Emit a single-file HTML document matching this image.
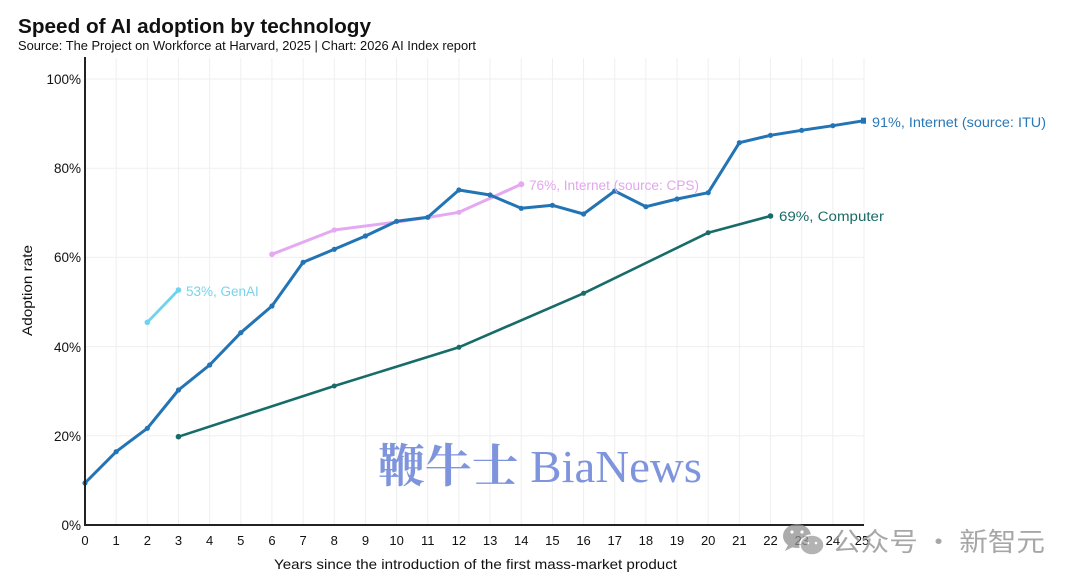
<!DOCTYPE html>
<html>
<head>
<meta charset="utf-8">
<style>
html,body{margin:0;padding:0;background:#fff;}
svg{display:block;}
text{font-family:"Liberation Sans","Noto Sans CJK SC",sans-serif;}
</style>
</head>
<body>
<svg width="1080" height="583" viewBox="0 0 1080 583" xmlns="http://www.w3.org/2000/svg">
<rect width="1080" height="583" fill="#fff"/>
<!-- Title -->
<text x="18" y="33" font-size="20" font-weight="bold" fill="#111" textLength="353" lengthAdjust="spacingAndGlyphs">Speed of AI adoption by technology</text>
<text x="18" y="50" font-size="12.5" fill="#111" textLength="458" lengthAdjust="spacingAndGlyphs">Source: The Project on Workforce at Harvard, 2025 | Chart: 2026 AI Index report</text>

<!-- Grid -->
<g stroke="#efefef" stroke-width="1">
<line x1="116.16" y1="58" x2="116.16" y2="525"/>
<line x1="147.32" y1="58" x2="147.32" y2="525"/>
<line x1="178.48" y1="58" x2="178.48" y2="525"/>
<line x1="209.64" y1="58" x2="209.64" y2="525"/>
<line x1="240.8" y1="58" x2="240.8" y2="525"/>
<line x1="271.96" y1="58" x2="271.96" y2="525"/>
<line x1="303.12" y1="58" x2="303.12" y2="525"/>
<line x1="334.28" y1="58" x2="334.28" y2="525"/>
<line x1="365.44" y1="58" x2="365.44" y2="525"/>
<line x1="396.6" y1="58" x2="396.6" y2="525"/>
<line x1="427.76" y1="58" x2="427.76" y2="525"/>
<line x1="458.92" y1="58" x2="458.92" y2="525"/>
<line x1="490.08" y1="58" x2="490.08" y2="525"/>
<line x1="521.24" y1="58" x2="521.24" y2="525"/>
<line x1="552.4" y1="58" x2="552.4" y2="525"/>
<line x1="583.56" y1="58" x2="583.56" y2="525"/>
<line x1="614.72" y1="58" x2="614.72" y2="525"/>
<line x1="645.88" y1="58" x2="645.88" y2="525"/>
<line x1="677.04" y1="58" x2="677.04" y2="525"/>
<line x1="708.2" y1="58" x2="708.2" y2="525"/>
<line x1="739.36" y1="58" x2="739.36" y2="525"/>
<line x1="770.52" y1="58" x2="770.52" y2="525"/>
<line x1="801.68" y1="58" x2="801.68" y2="525"/>
<line x1="832.84" y1="58" x2="832.84" y2="525"/>
<line x1="864" y1="58" x2="864" y2="525"/>
<line x1="85" y1="79" x2="864" y2="79"/>
<line x1="85" y1="168.2" x2="864" y2="168.2"/>
<line x1="85" y1="257.4" x2="864" y2="257.4"/>
<line x1="85" y1="346.6" x2="864" y2="346.6"/>
<line x1="85" y1="435.8" x2="864" y2="435.8"/>
</g>

<!-- Watermark BiaNews -->
<text x="378" y="482" style="font-family:'Liberation Serif','Noto Serif CJK SC',serif;font-size:46px;" fill="#7e95dd" textLength="324" lengthAdjust="spacingAndGlyphs"><tspan style="font-family:'Noto Serif CJK SC','Liberation Serif',serif;font-weight:bold;">鞭牛士</tspan> BiaNews</text>

<!-- Series: Computer -->
<polyline fill="none" stroke="#176c69" stroke-width="2.6" stroke-linejoin="round" points="178.48,436.7 334.28,386 458.92,347.3 583.56,293.3 708.2,232.7 770.52,216"/>
<g fill="#176c69">
<circle cx="178.48" cy="436.7" r="2.8"/><circle cx="334.28" cy="386" r="2.5"/><circle cx="458.92" cy="347.3" r="2.5"/><circle cx="583.56" cy="293.3" r="2.5"/><circle cx="708.2" cy="232.7" r="2.5"/><circle cx="770.52" cy="216" r="2.8"/>
</g>

<!-- Series: Internet CPS -->
<polyline fill="none" stroke="#e5a9f1" stroke-width="3" stroke-linejoin="round" points="271.96,254.3 334.28,230 396.6,222 427.76,217.5 458.92,212.3 521.24,184.3"/>
<g fill="#e5a9f1">
<circle cx="271.96" cy="254.3" r="2.8"/><circle cx="334.28" cy="230" r="2.6"/><circle cx="458.92" cy="212.3" r="2.6"/><circle cx="521.24" cy="184.3" r="3"/>
</g>

<!-- Series: GenAI -->
<polyline fill="none" stroke="#6dd3ee" stroke-width="2.8" points="147.32,322.3 178.48,290"/>
<g fill="#6dd3ee"><circle cx="147.32" cy="322.3" r="2.8"/><circle cx="178.48" cy="290" r="2.8"/></g>

<!-- Series: Internet ITU -->
<polyline fill="none" stroke="#2274b5" stroke-width="3" stroke-linejoin="round" points="85,483 116.16,451.7 147.32,428.3 178.48,390 209.64,365 240.8,332.7 271.96,306 303.12,262.3 334.28,249.3 365.44,236 396.6,221.3 427.76,217.3 458.92,190 490.08,195 521.24,208.3 552.4,205.3 583.56,214 614.72,191 645.88,206.7 677.04,199 708.2,192.7 739.36,142.7 770.52,135.3 801.68,130.3 832.84,125.7 864,120.7"/>
<g fill="#2274b5">
<circle cx="85" cy="483" r="2.6"/><circle cx="116.16" cy="451.7" r="2.6"/><circle cx="147.32" cy="428.3" r="2.6"/><circle cx="178.48" cy="390" r="2.6"/><circle cx="209.64" cy="365" r="2.6"/><circle cx="240.8" cy="332.7" r="2.6"/><circle cx="271.96" cy="306" r="2.6"/><circle cx="303.12" cy="262.3" r="2.6"/><circle cx="334.28" cy="249.3" r="2.6"/><circle cx="365.44" cy="236" r="2.6"/><circle cx="396.6" cy="221.3" r="2.6"/><circle cx="427.76" cy="217.3" r="2.6"/><circle cx="458.92" cy="190" r="2.6"/><circle cx="490.08" cy="195" r="2.6"/><circle cx="521.24" cy="208.3" r="2.6"/><circle cx="552.4" cy="205.3" r="2.6"/><circle cx="583.56" cy="214" r="2.6"/><circle cx="614.72" cy="191" r="2.6"/><circle cx="645.88" cy="206.7" r="2.6"/><circle cx="677.04" cy="199" r="2.6"/><circle cx="708.2" cy="192.7" r="2.6"/><circle cx="739.36" cy="142.7" r="2.6"/><circle cx="770.52" cy="135.3" r="2.6"/><circle cx="801.68" cy="130.3" r="2.6"/><circle cx="832.84" cy="125.7" r="2.6"/><rect x="861" y="117.7" width="5" height="6"/>
</g>

<!-- Series labels -->
<text x="186" y="296" font-size="13.5" fill="#78d3ec">53%, GenAI</text>
<text x="529" y="190" font-size="13.5" fill="#e2a6ee" textLength="170" lengthAdjust="spacingAndGlyphs">76%, Internet (source: CPS)</text>
<text x="872" y="127" font-size="13.5" fill="#2a78b6" textLength="174" lengthAdjust="spacingAndGlyphs">91%, Internet (source: ITU)</text>
<text x="779" y="221" font-size="13.5" fill="#1a6b68" textLength="105" lengthAdjust="spacingAndGlyphs">69%, Computer</text>

<!-- Axes -->
<line x1="85" y1="57" x2="85" y2="526" stroke="#222" stroke-width="2"/>
<line x1="84" y1="525" x2="864" y2="525" stroke="#222" stroke-width="2"/>

<!-- Y tick labels -->
<g font-size="13.5" fill="#111" text-anchor="end">
<text x="81" y="84">100%</text>
<text x="81" y="173">80%</text>
<text x="81" y="262">60%</text>
<text x="81" y="352">40%</text>
<text x="81" y="441">20%</text>
<text x="81" y="530">0%</text>
</g>

<!-- X tick labels -->
<g font-size="13" fill="#111" text-anchor="middle">
<text x="85" y="545">0</text><text x="116.16" y="545">1</text><text x="147.32" y="545">2</text><text x="178.48" y="545">3</text><text x="209.64" y="545">4</text><text x="240.8" y="545">5</text><text x="271.96" y="545">6</text><text x="303.12" y="545">7</text><text x="334.28" y="545">8</text><text x="365.44" y="545">9</text><text x="396.6" y="545">10</text><text x="427.76" y="545">11</text><text x="458.92" y="545">12</text><text x="490.08" y="545">13</text><text x="521.24" y="545">14</text><text x="552.4" y="545">15</text><text x="583.56" y="545">16</text><text x="614.72" y="545">17</text><text x="645.88" y="545">18</text><text x="677.04" y="545">19</text><text x="708.2" y="545">20</text><text x="739.36" y="545">21</text><text x="770.52" y="545">22</text><text x="801.68" y="545">23</text><text x="832.84" y="545">24</text><text x="862" y="545">25</text>
</g>

<!-- Axis titles -->
<text x="274" y="569" font-size="14" fill="#111" textLength="403" lengthAdjust="spacingAndGlyphs">Years since the introduction of the first mass-market product</text>
<text transform="translate(32,336) rotate(-90)" font-size="14" fill="#111" textLength="91" lengthAdjust="spacingAndGlyphs">Adoption rate</text>

<!-- WeChat watermark -->
<g opacity="0.75">
<ellipse cx="797" cy="536" rx="14" ry="12" fill="#8f8f8f"/>
<path d="M788,545 l-3,6 l8,-4 z" fill="#8f8f8f"/>
<ellipse cx="812" cy="545" rx="12" ry="10" fill="#9a9a9a" stroke="#fff" stroke-width="1.5"/>
<circle cx="792" cy="532" r="1.6" fill="#fff"/><circle cx="802" cy="532" r="1.6" fill="#fff"/>
<circle cx="808" cy="543" r="1.3" fill="#fff"/><circle cx="816" cy="543" r="1.3" fill="#fff"/>
</g>
<text x="832" y="551" style="font-family:'Noto Sans CJK SC','WenQuanYi Zen Hei',sans-serif;font-size:26px;" fill="#9e9e9e" opacity="0.9" textLength="213" lengthAdjust="spacingAndGlyphs">公众号 · 新智元</text>
</svg>
</body>
</html>
